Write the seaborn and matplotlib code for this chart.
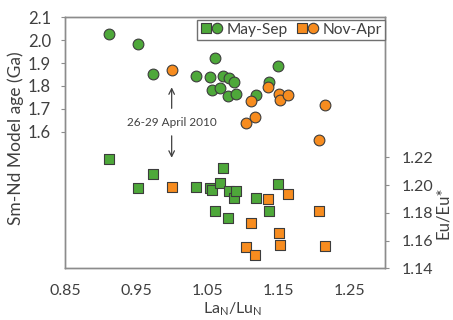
import matplotlib
matplotlib.use("Agg")
import matplotlib.pyplot as plt
import seaborn as sns
import numpy as np
from matplotlib.lines import Line2D
from matplotlib.legend_handler import HandlerTuple

# ---- data ----
may_sep_la_lu = [0.912, 0.953, 0.974, 1.034, 1.054, 1.057, 1.061, 1.068,
                 1.072, 1.079, 1.081, 1.087, 1.090, 1.118, 1.137, 1.150]
may_sep_age = [2.026, 1.985, 1.852, 1.845, 1.837, 1.781, 1.920, 1.793,
               1.845, 1.756, 1.833, 1.818, 1.766, 1.759, 1.818, 1.886]
may_sep_eu = [1.219, 1.198, 1.208, 1.1986, 1.198, 1.1964, 1.1815, 1.2015,
              1.212, 1.176, 1.196, 1.1905, 1.196, 1.191, 1.181, 1.2005]

nov_apr_la_lu = [1.000, 1.104, 1.111, 1.117, 1.135, 1.151, 1.153, 1.164, 1.207, 1.216]
nov_apr_age = [1.871, 1.640, 1.735, 1.664, 1.797, 1.764, 1.737, 1.762, 1.563, 1.715]
nov_apr_eu = [1.1984, 1.1556, 1.173, 1.1496, 1.190, 1.1657, 1.1568, 1.1935, 1.1815, 1.1563]

series_labels = ["May-Sep", "Nov-Apr"]
x_ticks = [0.85, 0.95, 1.05, 1.15, 1.25]
age_ticks = [1.6, 1.7, 1.8, 1.9, 2.0, 2.1]
eu_ticks = [1.14, 1.16, 1.18, 1.20, 1.22]
annotation_text = "26-29 April 2010"

# ---- style ----
sns.set_style("white")
plt.rcParams['font.family'] = ['Lato', 'DejaVu Sans']

GREEN = "#4ea83a"
ORANGE = "#f78c1f"
EDGE = "#3c3c3c"
SPINE = "#8c8c8c"
TXT = "#404040"

fig = plt.figure(figsize=(4.53, 3.20), dpi=100)
ax = fig.add_axes([65/453, 1-268.3/320, 320/453, 251/320])
ax2 = ax.twinx()

sns.scatterplot(x=may_sep_la_lu, y=may_sep_age, ax=ax, marker='o', s=60,
                color=GREEN, edgecolor=EDGE, linewidth=0.8, zorder=3)
sns.scatterplot(x=nov_apr_la_lu, y=nov_apr_age, ax=ax, marker='o', s=60,
                color=ORANGE, edgecolor=EDGE, linewidth=0.8, zorder=4)
sns.scatterplot(x=may_sep_la_lu, y=may_sep_eu, ax=ax2, marker='s', s=54,
                color=GREEN, edgecolor=EDGE, linewidth=0.8, zorder=3)
sns.scatterplot(x=nov_apr_la_lu, y=nov_apr_eu, ax=ax2, marker='s', s=54,
                color=ORANGE, edgecolor=EDGE, linewidth=0.8, zorder=4)

ax.set_xlim(0.85, 1.30)
ax.set_ylim(1.003, 2.1)
ax2.set_ylim(1.14, 1.321)

ax.set_xticks(x_ticks)
ax.set_xticklabels([f"{v:.2f}" for v in x_ticks])
ax.set_yticks(age_ticks)
ax.set_yticklabels([f"{v:.1f}" for v in age_ticks])
ax2.set_yticks(eu_ticks)
ax2.set_yticklabels([f"{v:.2f}" for v in eu_ticks])

for a in (ax, ax2):
    a.tick_params(axis='both', which='both', direction='out', length=3,
                  width=0.8, color=SPINE, labelcolor=TXT)
    for sp in a.spines.values():
        sp.set_color(SPINE)
        sp.set_linewidth(1.0)
        sp.set_visible(True)
ax.tick_params(axis='y', labelsize=12, pad=7)
ax2.tick_params(axis='y', labelsize=11.5, pad=9)
ax.tick_params(axis='x', labelsize=11.5, pad=8)

ax.set_xlabel("La$_\\mathregular{N}$/Lu$_\\mathregular{N}$", fontsize=11.5, color=TXT)
ax.xaxis.set_label_coords(0.525, -0.128)
ax.set_ylabel("Sm-Nd Model age (Ga)", fontsize=12.5, color=TXT)
ax.yaxis.set_label_coords(-0.128, 0.52)
ax2.set_ylabel("Eu/Eu*", fontsize=12, color=TXT, rotation=90)
ax2.yaxis.set_label_coords(1.155, 0.22)

# annotation with arrows
ax.text(1.0, 1.642, annotation_text, ha='center', va='center',
        fontsize=8.5, color=TXT, zorder=5)
ax.annotate("", xy=(1.0, 1.806), xytext=(1.0, 1.690),
            arrowprops=dict(arrowstyle='->', color=TXT, lw=0.9))
ax.annotate("", xy=(1.0, 1.474), xytext=(1.0, 1.594),
            arrowprops=dict(arrowstyle='->', color=TXT, lw=0.9))

# legend
def mk(marker, color, size):
    return Line2D([], [], linestyle='none', marker=marker, markersize=size,
                  markerfacecolor=color, markeredgecolor=EDGE, markeredgewidth=0.8)

handles = [(mk('s', GREEN, 7), mk('o', GREEN, 7.5)),
           (mk('s', ORANGE, 7), mk('o', ORANGE, 7.5))]
leg = ax2.legend(handles, series_labels, ncol=2, loc='upper right',
                 bbox_to_anchor=(1.0, 0.99), borderaxespad=0.0,
                 handler_map={tuple: HandlerTuple(ndivide=None, pad=0.05)},
                 handlelength=1.4, handletextpad=0.25, columnspacing=0.6,
                 fontsize=11.2, frameon=True, fancybox=False, framealpha=1,
                 edgecolor="#707070", borderpad=0.2)
leg.get_frame().set_linewidth(1.0)
for t in leg.get_texts():
    t.set_color(TXT)

fig.savefig("out.png", dpi=100)
